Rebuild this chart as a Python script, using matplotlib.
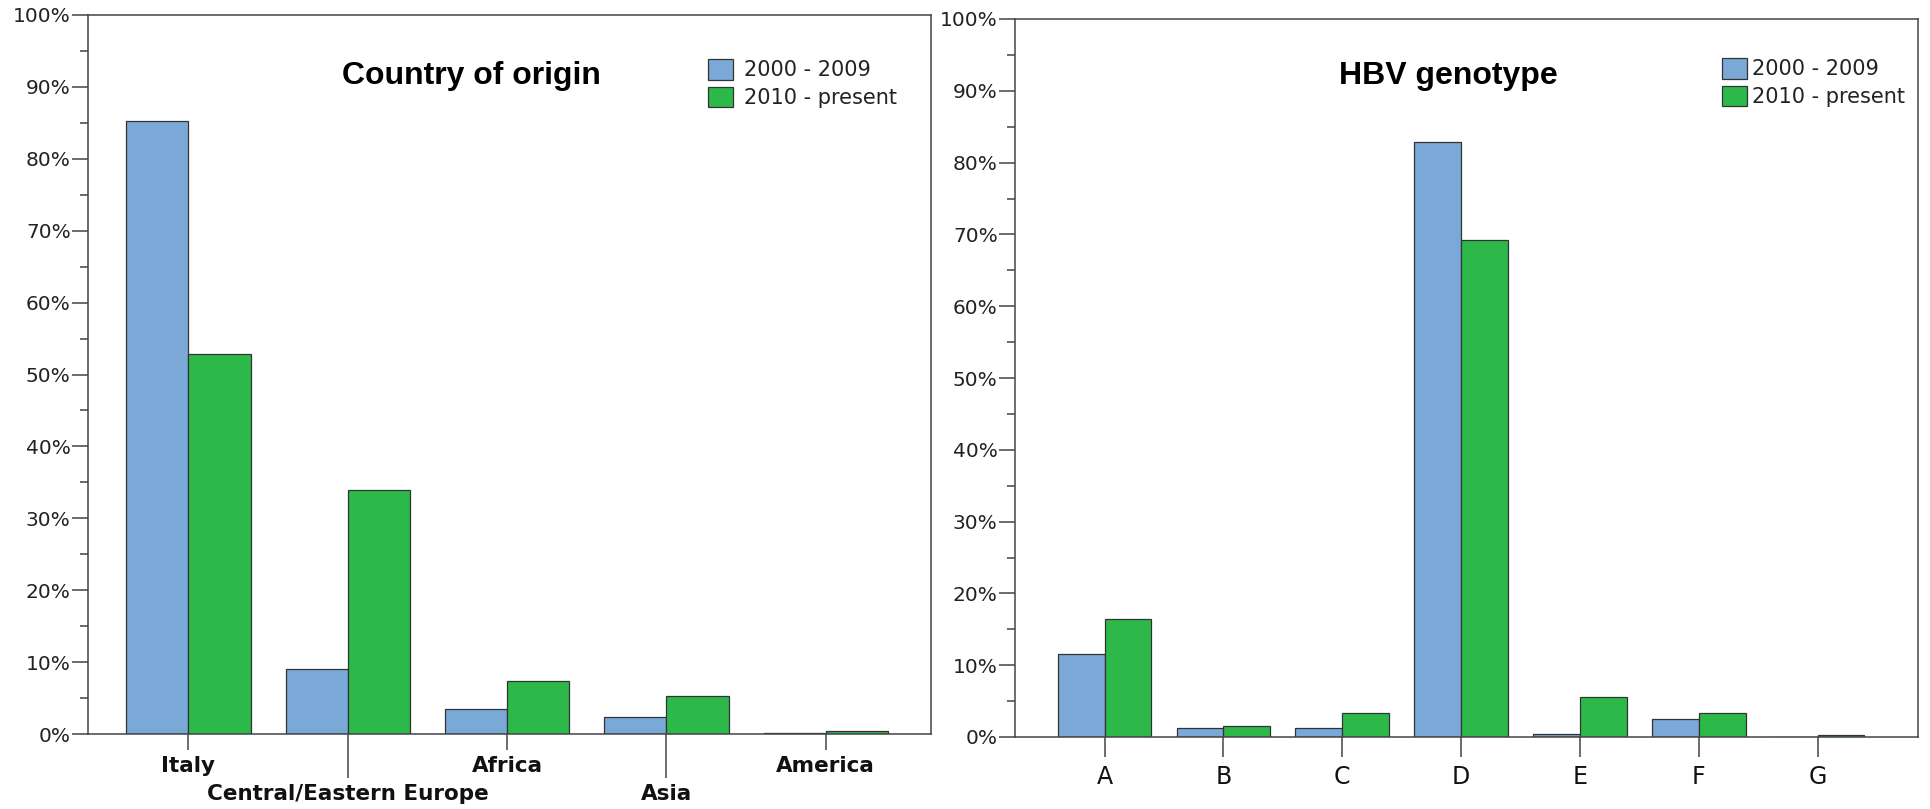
import numpy as np
import matplotlib
matplotlib.use('Agg')
import matplotlib.pyplot as plt
from matplotlib.ticker import MultipleLocator, PercentFormatter

countries = ['Italy', 'Central/Eastern Europe', 'Africa', 'Asia', 'America']
country_2000 = [85.3, 9.0, 3.5, 2.3, 0.1]
country_2010 = [52.9, 33.9, 7.4, 5.3, 0.4]

genotypes = ['A', 'B', 'C', 'D', 'E', 'F', 'G']
geno_2000 = [11.5, 1.3, 1.3, 82.9, 0.4, 2.5, 0.05]
geno_2010 = [16.4, 1.6, 3.4, 69.2, 5.6, 3.4, 0.3]

periods = ['2000 - 2009', '2010 - present']
colors = ['#7aa8d7', '#2db84a']
edge = '#333333'

fig = plt.figure(figsize=(19.31, 8.09), dpi=100)
W, H = 1931, 809


def px_axes(x0, y0, x1, y1):
    # axes from pixel box (top-left origin)
    return fig.add_axes([x0 / W, 1 - y1 / H, (x1 - x0) / W, (y1 - y0) / H])


def style_axes(ax):
    for s in ax.spines.values():
        s.set_color('#444444')
        s.set_linewidth(1.1)
    ax.set_ylim(0, 100)
    ax.yaxis.set_major_locator(MultipleLocator(10))
    ax.yaxis.set_minor_locator(MultipleLocator(5))
    ax.yaxis.set_major_formatter(PercentFormatter(decimals=0))
    ax.tick_params(axis='y', which='major', length=11.5, width=1.1, color='#444444',
                   labelsize=14.5, pad=1, labelcolor='#222222')
    ax.tick_params(axis='y', which='minor', length=6, width=1.1, color='#444444')


# left panel: country of origin
ax1 = px_axes(88, 15, 931, 734)
style_axes(ax1)
x = np.arange(len(countries))
w = 0.39
ax1.bar(x - w / 2, country_2000, w, color=colors[0], edgecolor=edge, linewidth=0.9, label=periods[0])
ax1.bar(x + w / 2, country_2010, w, color=colors[1], edgecolor=edge, linewidth=0.9, label=periods[1])
ax1.set_xlim(-0.63, 4.66)
ax1.set_xticks(x[::2])
ax1.set_xticklabels(countries[::2])
ax1.set_xticks(x[1::2], minor=True)
ax1.set_xticklabels(countries[1::2], minor=True)
ax1.tick_params(axis='x', which='major', length=11.5, width=1.1, color='#444444', pad=4)
ax1.tick_params(axis='x', which='minor', length=32, width=1.1, color='#444444', pad=4)
for lab in ax1.get_xticklabels(which='both'):
    lab.set_fontweight('bold')
    lab.set_fontsize(15.5)
    lab.set_color('#111111')

# right panel: HBV genotype
ax2 = px_axes(1015, 19, 1918, 737)
style_axes(ax2)
x2 = np.arange(len(genotypes))
w2 = 0.394
ax2.bar(x2 - w2 / 2, geno_2000, w2, color=colors[0], edgecolor=edge, linewidth=0.9, label=periods[0])
ax2.bar(x2 + w2 / 2, geno_2010, w2, color=colors[1], edgecolor=edge, linewidth=0.9, label=periods[1])
ax2.set_xlim(-0.754, 6.845)
ax2.set_xticks(x2)
ax2.set_xticklabels(genotypes)
ax2.tick_params(axis='x', which='major', length=14.4, width=1.1, color='#444444', pad=6)
for lab in ax2.get_xticklabels():
    lab.set_fontsize(17)
    lab.set_color('#111111')

# titles
fig.text(471 / W, 1 - 76 / H, 'Country of origin', ha='center', va='center',
         fontsize=23, fontweight='bold', family=['Liberation Sans', 'DejaVu Sans'])
fig.text(1448 / W, 1 - 76 / H, 'HBV genotype', ha='center', va='center',
         fontsize=23, fontweight='bold', family=['Liberation Sans', 'DejaVu Sans'])

# legends
for ax, (lx, ly), tp in [(ax1, (708, 59), 0.55), (ax2, (1722, 58), 0.25)]:
    h, l = ax.get_legend_handles_labels()
    fig.legend(h, l, loc='upper left', bbox_to_anchor=(lx / W, 1 - ly / H),
               frameon=False, fontsize=15, handlelength=1.2, handleheight=1.15,
               handletextpad=tp, labelspacing=0.3, borderpad=0, borderaxespad=0,
               labelcolor='#222222')

fig.savefig('out.png', dpi=100)
